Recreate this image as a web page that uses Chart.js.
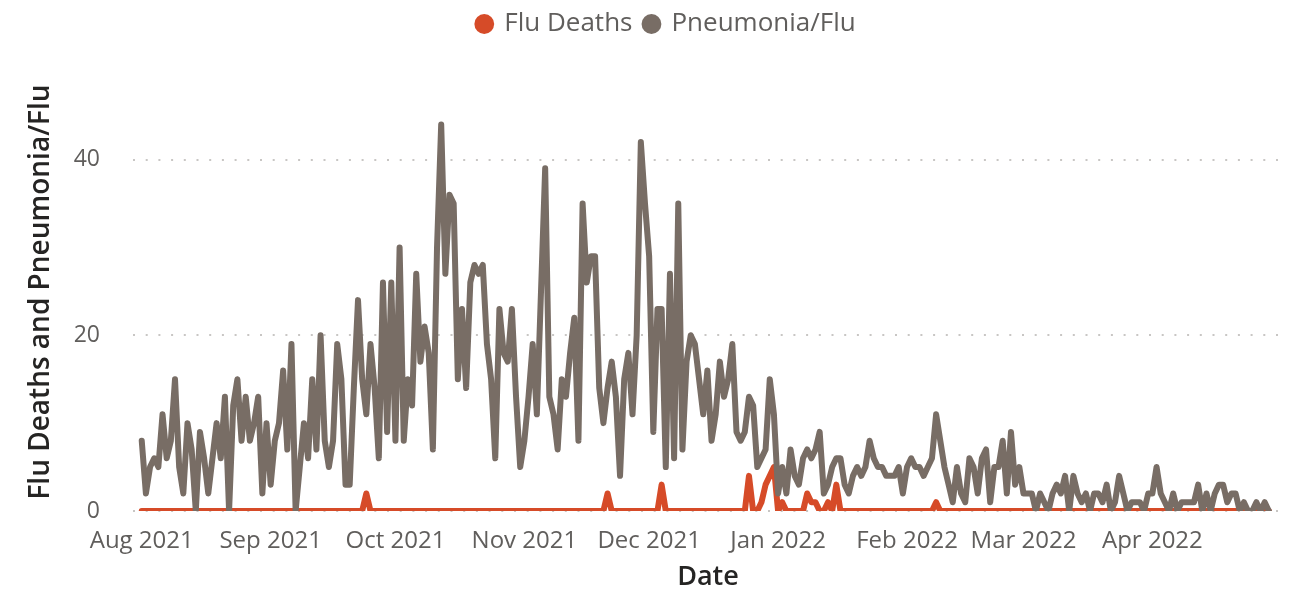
<!DOCTYPE html>
<html>
<head>
<meta charset="utf-8">
<script src="https://cdn.jsdelivr.net/npm/chart.js@4.4.1/dist/chart.umd.min.js"></script>
<style>
  html, body { margin: 0; padding: 0; background: #fff; }
  #wrap { width: 1294px; height: 590px; }
</style>
</head>
<body>
<div id="wrap"><canvas id="chart"></canvas></div>
<script>
// Month tick labels, and each month's first day as an offset from 1 Aug 2021
const monthLabels = ['Aug 2021', 'Sep 2021', 'Oct 2021', 'Nov 2021', 'Dec 2021',
  'Jan 2022', 'Feb 2022', 'Mar 2022', 'Apr 2022'];
const monthOffsets = [0, 31, 61, 92, 122, 153, 184, 212, 243];

// Daily Pneumonia/Flu counts, one array per month
const pneuAug = [8, 2, 5, 6, 5, 11, 6, 8, 15, 5, 2, 10, 7, 0, 9, 6, 2, 6, 10, 6, 13, 0, 12, 15, 8, 13, 8, 10, 13, 2, 10];
const pneuSep = [3, 8, 10, 16, 7, 19, 0, 5, 10, 6, 15, 7, 20, 8, 5, 8, 19, 15, 3, 3, 14, 24, 15, 11, 19, 14, 6, 26, 9, 26];
const pneuOct = [8, 30, 8, 15, 12, 27, 17, 21, 18, 7, 30, 44, 27, 36, 35, 15, 23, 14, 26, 28, 27, 28, 19, 15, 6, 23, 18, 17, 23, 13, 5];
const pneuNov = [8, 13, 19, 11, 25, 39, 13, 11, 7, 15, 13, 18, 22, 8, 35, 26, 29, 29, 14, 10, 14, 17, 13, 4, 15, 18, 11, 20, 42, 35];
const pneuDec = [29, 9, 23, 23, 5, 27, 6, 35, 7, 17, 20, 19, 15, 11, 16, 8, 11, 17, 13, 15, 19, 9, 8, 9, 13, 12, 5, 6, 7, 15, 11];
const pneuJan = [2, 5, 2, 7, 4, 3, 6, 7, 6, 7, 9, 2, 3, 5, 6, 6, 3, 2, 4, 5, 4, 5, 8, 6, 5, 5, 4, 4, 4, 5, 2];
const pneuFeb = [5, 6, 5, 5, 4, 5, 6, 11, 8, 5, 3, 1, 5, 2, 1, 6, 5, 2, 6, 7, 1, 5, 5, 8, 2, 9, 3, 5];
const pneuMar = [2, 2, 2, 0, 2, 1, 0, 2, 3, 2, 4, 0, 4, 2, 1, 2, 0, 2, 2, 1, 3, 0, 1, 4, 2, 0, 1, 1, 1, 0, 2];
const pneuApr = [2, 5, 2, 1, 0, 2, 0, 1, 1, 1, 1, 3, 0, 2, 0, 2, 3, 3, 1, 2, 2, 0, 1, 0, 0, 1, 0, 1, 0];

// Daily Flu Deaths, one array per month
const fluAug = [0, 0, 0, 0, 0, 0, 0, 0, 0, 0, 0, 0, 0, 0, 0, 0, 0, 0, 0, 0, 0, 0, 0, 0, 0, 0, 0, 0, 0, 0, 0];
const fluSep = [0, 0, 0, 0, 0, 0, 0, 0, 0, 0, 0, 0, 0, 0, 0, 0, 0, 0, 0, 0, 0, 0, 0, 2, 0, 0, 0, 0, 0, 0];
const fluOct = [0, 0, 0, 0, 0, 0, 0, 0, 0, 0, 0, 0, 0, 0, 0, 0, 0, 0, 0, 0, 0, 0, 0, 0, 0, 0, 0, 0, 0, 0, 0];
const fluNov = [0, 0, 0, 0, 0, 0, 0, 0, 0, 0, 0, 0, 0, 0, 0, 0, 0, 0, 0, 0, 2, 0, 0, 0, 0, 0, 0, 0, 0, 0];
const fluDec = [0, 0, 0, 3, 0, 0, 0, 0, 0, 0, 0, 0, 0, 0, 0, 0, 0, 0, 0, 0, 0, 0, 0, 0, 4, 0, 0, 1, 3, 4, 5];
const fluJan = [0, 1, 0, 0, 0, 0, 0, 2, 1, 1, 0, 0, 1, 0, 3, 0, 0, 0, 0, 0, 0, 0, 0, 0, 0, 0, 0, 0, 0, 0, 0];
const fluFeb = [0, 0, 0, 0, 0, 0, 0, 1, 0, 0, 0, 0, 0, 0, 0, 0, 0, 0, 0, 0, 0, 0, 0, 0, 0, 0, 0, 0];
const fluMar = [0, 0, 0, 0, 0, 0, 0, 0, 0, 0, 0, 0, 0, 0, 0, 0, 0, 0, 0, 0, 0, 0, 0, 0, 0, 0, 0, 0, 0, 0, 0];
const fluApr = [0, 0, 0, 0, 0, 0, 0, 0, 0, 0, 0, 0, 0, 0, 0, 0, 0, 0, 0, 0, 0, 0, 0, 0, 0, 0, 0, 0, 0];

const yTicks = [0, 20, 40];

const pneumonia = [].concat(pneuAug, pneuSep, pneuOct, pneuNov, pneuDec, pneuJan, pneuFeb, pneuMar, pneuApr);
const fluDeaths = [].concat(fluAug, fluSep, fluOct, fluNov, fluDec, fluJan, fluFeb, fluMar, fluApr);
const toPoints = arr => arr.map((v, i) => ({ x: i, y: v }));

const RED = '#D64B28';
const GREY = '#786D65';
const FONT = "'Open Sans', 'Noto Sans', sans-serif";

// nudge the legend right so it sits where the original one does
const legendShift = {
  id: 'legendShift',
  afterLayout(chart) {
    const lg = chart.legend;
    if (lg) { lg.left += 25; lg.right += 25; }
  }
};

// empty layout box between the legend and the plot, for the gap above the plot
const topSpacer = {
  id: 'topSpacer',
  beforeInit(chart) {
    Chart.layouts.addBox(chart, {
      position: 'top',
      weight: 500,
      fullSize: true,
      options: {},
      left: 0, top: 0, right: 0, bottom: 0, width: 0, height: 0,
      isHorizontal() { return true; },
      update(maxWidth) { this.width = maxWidth; this.height = 26; },
      draw() {}
    });
  }
};

new Chart(document.getElementById('chart'), {
  type: 'line',
  data: {
    datasets: [
      {
        label: 'Pneumonia/Flu',
        data: toPoints(pneumonia),
        borderColor: GREY,
        backgroundColor: GREY,
        borderWidth: 6,
        pointRadius: 0,
        pointStyle: 'circle',
        borderJoinStyle: 'round',
        borderCapStyle: 'round',
        tension: 0
      },
      {
        label: 'Flu Deaths',
        data: toPoints(fluDeaths),
        borderColor: RED,
        backgroundColor: RED,
        borderWidth: 6,
        pointRadius: 0,
        pointStyle: 'circle',
        borderJoinStyle: 'round',
        borderCapStyle: 'round',
        tension: 0
      }
    ]
  },
  options: {
    responsive: true,
    maintainAspectRatio: false,
    animation: false,
    layout: { padding: { top: -1, right: 11, bottom: 0, left: 0 } },
    plugins: {
      tooltip: { enabled: false },
      legend: {
        position: 'top',
        reverse: true,
        labels: {
          usePointStyle: true,
          boxWidth: 14,
          boxHeight: 14,
          padding: 12,
          color: '#605E5C',
          font: { family: FONT, size: 26 },
          generateLabels(chart) {
            return Chart.defaults.plugins.legend.labels.generateLabels(chart)
              .map(item => Object.assign(item, { lineWidth: 0 }));
          }
        }
      }
    },
    scales: {
      x: {
        type: 'linear',
        min: -2.1,
        max: 274.4,
        grid: { display: false },
        border: { display: false },
        afterBuildTicks(scale) {
          scale.ticks = monthOffsets.map(v => ({ value: v }));
        },
        afterFit(scale) { scale.height = 79; },
        ticks: {
          autoSkip: false,
          maxRotation: 0,
          padding: 8,
          color: '#605E5C',
          font: { family: FONT, size: 24 },
          callback(value) {
            const i = monthOffsets.indexOf(value);
            return i >= 0 ? monthLabels[i] : '';
          }
        },
        title: {
          display: true,
          text: 'Date',
          color: '#252423',
          font: { family: FONT, size: 27, weight: '600' },
          padding: { top: 0, bottom: -4 }
        }
      },
      y: {
        min: 0,
        max: 49.85,
        afterBuildTicks(scale) {
          scale.ticks = yTicks.map(v => ({ value: v }));
        },
        afterFit(scale) { scale.width = 133; },
        border: { display: false, dash: [2, 10.7] },
        grid: {
          color: '#C8C6C4',
          lineWidth: 2,
          drawTicks: false
        },
        ticks: {
          padding: 33,
          color: '#605E5C',
          font: { family: FONT, size: 23 }
        },
        title: {
          display: true,
          text: 'Flu Deaths and Pneumonia/Flu',
          color: '#252423',
          font: { family: FONT, size: 28, weight: '600' },
          padding: { top: 24, bottom: 0 }
        }
      }
    }
  },
  plugins: [legendShift, topSpacer]
});
</script>
</body>
</html>
